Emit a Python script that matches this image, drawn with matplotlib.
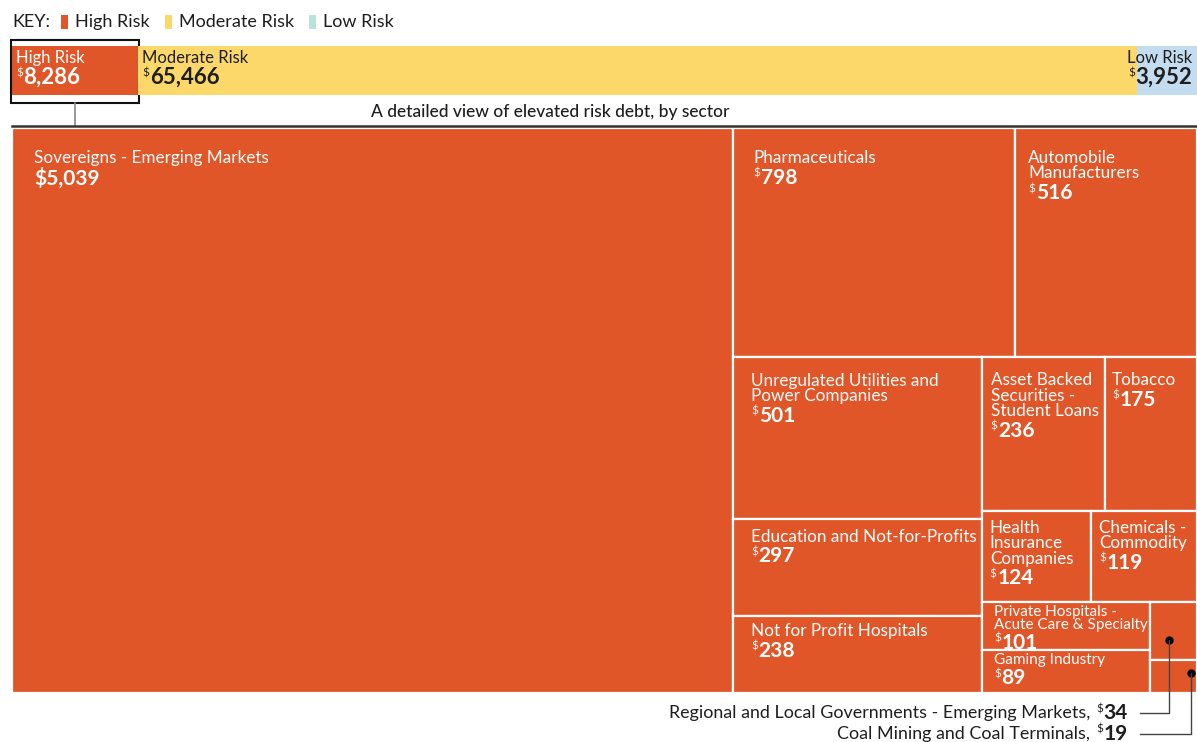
import matplotlib
matplotlib.use("Agg")
import matplotlib.pyplot as plt
from matplotlib.patches import Rectangle

plt.rcParams['font.family'] = ['Lato', 'DejaVu Sans']

# data
risk_names = ["High Risk", "Moderate Risk", "Low Risk"]
risk_values = [8286, 65466, 3952]

sector_names = [
    "Sovereigns - Emerging Markets",
    "Pharmaceuticals",
    "Automobile\nManufacturers",
    "Unregulated Utilities and\nPower Companies",
    "Education and Not-for-Profits",
    "Not for Profit Hospitals",
    "Asset Backed\nSecurities -\nStudent Loans",
    "Tobacco",
    "Health\nInsurance\nCompanies",
    "Chemicals -\nCommodity",
    "Private Hospitals -\nAcute Care & Specialty",
    "Gaming Industry",
    "Regional and Local Governments - Emerging Markets",
    "Coal Mining and Coal Terminals",
]
sector_values = [5039, 798, 516, 501, 297, 238, 236, 175, 124, 119, 101, 89, 34, 19]

# nesting of the treemap: "h" = side by side, "v" = stacked
tree = ("h", [0, ("v", [("h", [1, 2]),
                        ("h", [("v", [3, 4, 5]),
                               ("v", [("h", [6, 7]),
                                      ("h", [8, 9]),
                                      ("h", [("v", [10, 11]), ("v", [12, 13])])])])])])

ORANGE = "#E05628"
risk_colors = [ORANGE, "#FCD86B", "#C4DCF0"]
key_colors = [ORANGE, "#FCD86B", "#B9E2DA"]
DARK = "#1e1e1e"


def total(node):
    if isinstance(node, int):
        return sector_values[node]
    return sum(total(k) for k in node[1])


def layout(node, x, y, w, h, out):
    if isinstance(node, int):
        out[node] = (x, y, w, h)
        return
    orient, kids = node
    t = total(node)
    off = 0
    for k in kids:
        f = total(k) / t
        if orient == "h":
            layout(k, x + off, y, w * f, h, out)
            off += w * f
        else:
            layout(k, x, y + off, w, h * f, out)
            off += h * f


fig = plt.figure(figsize=(11.97, 7.42), dpi=100)
ax = fig.add_axes([0, 0, 1, 1])
ax.set_xlim(0, 1197)
ax.set_ylim(742, 0)
ax.axis('off')
fig.canvas.draw()
rend = fig.canvas.get_renderer()


def wpx(t):
    return t.get_window_extent(renderer=rend).width


def money(x, y, val, color, size=15, ha="left", sup=True):
    num = f"{val:,}"
    if not sup:
        return ax.text(x, y, "$" + num, color=color, fontsize=size, fontweight="bold", va="top", ha=ha)
    if ha == "left":
        d = ax.text(x, y, "$", color=color, fontsize=8.5, va="top")
        ax.text(x + wpx(d) + 0.5, y, num, color=color, fontsize=size, fontweight="bold", va="top")
    else:
        n = ax.text(x, y, num, color=color, fontsize=size, fontweight="bold", va="top", ha="right")
        d = ax.text(x - wpx(n) - 0.5, y, "$", color=color, fontsize=8.5, va="top", ha="right")
        return x - wpx(n) - wpx(d) - 1


# key
t = ax.text(12, 22, "KEY:", fontsize=13, color=DARK, va="center")
kx = 12 + wpx(t) + 11
for name, c in zip(risk_names, key_colors):
    ax.add_patch(Rectangle((kx, 15), 7, 14, fc=c, ec="none"))
    t = ax.text(kx + 14, 22, name, fontsize=13, color=DARK, va="center")
    kx = kx + 14 + wpx(t) + 15

# top bar
bx0, bx1, by0, by1 = 12, 1197, 46, 95
rtot = sum(risk_values)
x = bx0
for i, (name, v, c) in enumerate(zip(risk_names, risk_values, risk_colors)):
    w = (bx1 - bx0) * v / rtot
    ax.add_patch(Rectangle((x, by0), w, by1 - by0, fc=c, ec="none"))
    tc = "white" if i == 0 else DARK
    if i == len(risk_names) - 1:
        ax.text(bx1 - 5, by0 + 4, name, fontsize=12, color=tc, va="top", ha="right")
        money(bx1 - 5, by0 + 21, v, tc, size=16, ha="right")
    else:
        ax.text(x + 4, by0 + 4, name, fontsize=12, color=tc, va="top")
        money(x + 4, by0 + 21, v, tc, size=16)
    if i == 0:
        ax.add_patch(Rectangle((x - 1, by0 - 6), w + 2, by1 - by0 + 14, fc="none", ec="#111", lw=1.5))
        ax.plot([x + w / 2, x + w / 2], [by1 + 8, 126], color="#888", lw=1.2)
    x += w

ax.text(550, 112, "A detailed view of elevated risk debt, by sector", fontsize=12.5,
        fontweight="medium", color=DARK, ha="center", va="center")
ax.plot([12, 1197], [126, 126], color="#333", lw=1.8)

# treemap
cells = {}
layout(tree, 12, 128, 1185, 565, cells)
for i in range(len(sector_values)):
    x, y, w, h = cells[i]
    ax.add_patch(Rectangle((x, y), w, h, fc=ORANGE, ec="white", lw=1.6))

for i in range(12):
    x, y, w, h = cells[i]
    px = min(22, 0.075 * w)
    if h > 60:
        fs, step, py = 12.3, 15.5, min(22, 0.1 * h)
    else:
        fs, step, py = 11, 13, 3
    lines = sector_names[i].split("\n")
    for j, ln in enumerate(lines):
        ax.text(x + px, y + py + j * step, ln, fontsize=fs, color="white", va="top")
    money(x + px, y + py + len(lines) * step + 2, sector_values[i], "white", sup=(i != 0))

# small cells labelled outside
ty = [713, 734]
for k, i in enumerate([12, 13]):
    x, y, w, h = cells[i]
    if k == 0:
        dx, dy = x + 0.4 * w, y + 0.65 * h
    else:
        dx, dy = x + 0.88 * w, y + 0.4 * h
    ax.plot([dx], [dy], "o", color="black", ms=5)
    ax.plot([dx, dx, 1140], [dy, ty[k], ty[k]], color="#444", lw=1)
    left = money(1128, ty[k] - 10, sector_values[i], DARK, size=15, ha="right")
    ax.text(left - 1, ty[k], sector_names[i] + ", ", fontsize=12.9, color=DARK, va="center", ha="right")

fig.savefig("out.png", dpi=100)
